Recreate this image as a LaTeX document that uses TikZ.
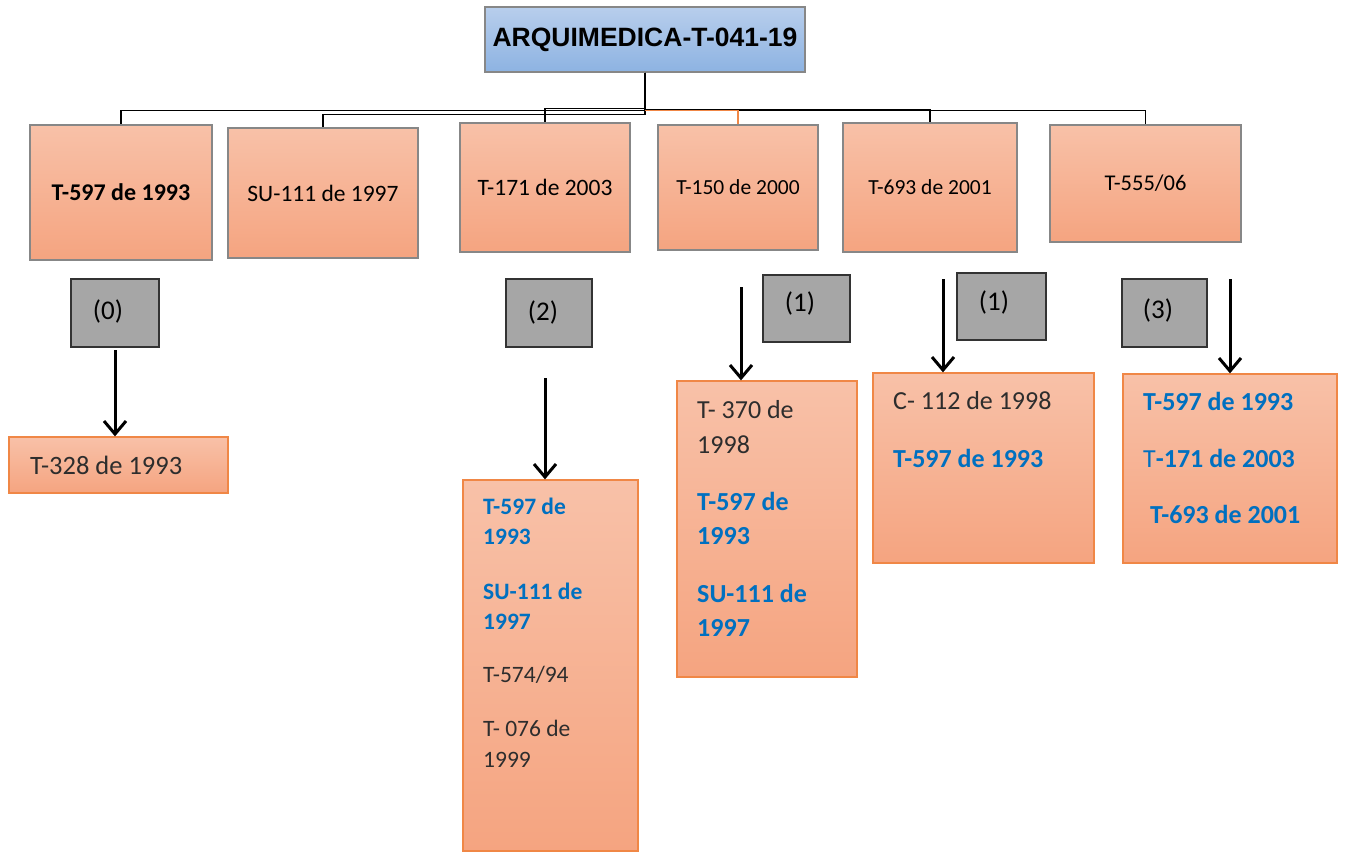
\documentclass[tikz,border=0pt]{standalone}
\usepackage{fontspec}
\setmainfont{Carlito}
\newfontfamily\hdrfont{Liberation Sans}
\usetikzlibrary{arrows.meta}
\definecolor{boxtop}{RGB}{248,193,168}
\definecolor{boxbot}{RGB}{245,164,128}
\definecolor{hdrtop}{RGB}{184,206,236}
\definecolor{hdrbot}{RGB}{141,179,226}
\definecolor{ornline}{RGB}{240,135,70}
\definecolor{grayfill}{RGB}{166,166,166}
\definecolor{bluetxt}{RGB}{0,112,192}
\definecolor{darktxt}{RGB}{45,45,45}
\definecolor{edgegray}{RGB}{135,135,135}
\begin{document}
\begin{tikzpicture}[x=1pt,y=-1pt,
  hdrbox/.style={draw=edgegray, line width=1.2pt, top color=hdrtop, bottom color=hdrbot, inner sep=0},
  topbox/.style={draw=edgegray, line width=1.2pt, top color=boxtop, bottom color=boxbot, inner sep=0, text=black},
  resbox/.style={draw=ornline, line width=1.3pt, top color=boxtop, bottom color=boxbot, inner sep=0},
  graybox/.style={draw=black!80, line width=1.3pt, fill=grayfill, inner sep=0},
  conn/.style={draw=black, line width=1.2pt},
  arr/.style={line width=3pt, -{Straight Barb[length=13pt,width=22pt,line width=3pt]}},
  txt/.style={inner sep=0, anchor=west, text=darktxt},
  bl/.style={inner sep=0, anchor=west, text=bluetxt, font=\bfseries\fontsize{#1}{#1}\selectfont},
  sz/.style={font=\fontsize{#1}{#1}\selectfont}
]
\useasboundingbox (0,0) rectangle (1345,852);

% header
\node[hdrbox, minimum width=320pt, minimum height=65pt] (hdr) at (645,39.5)
  {\hdrfont\bfseries\fontsize{26.5}{26.5}\selectfont ARQUIMEDICA-T-041-19};

% top-level boxes
\node[topbox, minimum width=182pt, minimum height=135pt] (c1) at (121,192.5) {\bfseries\fontsize{24}{24}\selectfont T-597 de 1993};
\node[topbox, minimum width=190pt, minimum height=130pt] (c2) at (323,193) {\fontsize{23.5}{24}\selectfont SU-111 de 1997};
\node[topbox, minimum width=170pt, minimum height=129pt] (c3) at (545,187.5) {\fontsize{23.5}{24}\selectfont T-171 de 2003};
\node[topbox, minimum width=160pt, minimum height=125pt] (c4) at (738,187.5) {\fontsize{21.5}{22}\selectfont T-150 de 2000};
\node[topbox, minimum width=174pt, minimum height=129pt] (c5) at (930,187.5) {\fontsize{21.5}{22}\selectfont T-693 de 2001};
\node[topbox, minimum width=191pt, minimum height=117pt] (c6) at (1145.5,183.5) {\fontsize{22.5}{23}\selectfont T-555/06};

% connectors
\draw[conn] (hdr.south) -- ++(0,38) -| (c1.north);
\draw[conn] (hdr.south) -- ++(0,42) -| (c2.north);
\draw[conn] (hdr.south) -- ++(0,36) -| (c3.north);
\draw[conn] (hdr.south) -- ++(0,37) -| (c5.north);
\draw[conn] (hdr.south) -- ++(0,38) -| (c6.north);
\draw[conn, draw=ornline] (hdr.south) ++(0,38) -| (c4.north);

% gray count boxes
\node[graybox, minimum width=88pt, minimum height=68pt] (g0) at (115,313) {};
\node[graybox, minimum width=86pt, minimum height=68pt] (g2) at (549,313) {};
\node[graybox, minimum width=87pt, minimum height=67pt] (g1a) at (806.5,308.5) {};
\node[graybox, minimum width=89pt, minimum height=67pt] (g1b) at (1001.5,306.5) {};
\node[graybox, minimum width=85pt, minimum height=68pt] (g3) at (1164.5,313) {};
\node[inner sep=0, sz=27] (l0) at (108,311) {(0)};
\node[inner sep=0, sz=27] (l2) at (543,312) {(2)};
\node[inner sep=0, sz=27] (l1a) at (800,303) {(1)};
\node[inner sep=0, sz=27] (l1b) at (994,302) {(1)};
\node[inner sep=0, sz=27] (l3) at (1158,310) {(3)};

% result boxes
\node[resbox, minimum width=219pt, minimum height=56pt] (r0) at (118.5,465) {};
\node[resbox, minimum width=175pt, minimum height=371pt] (r2) at (550.5,665.5) {};
\node[resbox, minimum width=180pt, minimum height=296pt] (r1a) at (767,529) {};
\node[resbox, minimum width=221pt, minimum height=190pt] (r1b) at (983.5,468) {};
\node[resbox, minimum width=214pt, minimum height=189pt] (r3) at (1230,468.5) {};

% arrows
\coordinate (a0) at (115,350);
\coordinate (a2) at (545,378);
\coordinate (a1a) at (741,287);
\coordinate (a1b) at (943,279);
\coordinate (a3) at (1230,279);
\draw[arr] (a0) -- (a0 |- r0.north);
\draw[arr] (a2) -- (a2 |- r2.north);
\draw[arr] (a1a) -- (a1a |- r1a.north);
\draw[arr] (a1b) -- (a1b |- r1b.north);
\draw[arr] (a3) -- (a3 |- r3.north);

% texts in results
\node[txt, sz=26.5] (t0) at (30,465) {T-328 de 1993};

\node[bl=23.5] (t2a) at (483,506) {T-597 de};
\node[bl=23.5] (t2b) at (483,537) {1993};
\node[bl=23.5] (t2c) at (483,591) {SU-111 de};
\node[bl=23.5] (t2d) at (483,622) {1997};
\node[txt, sz=23.5] (t2e) at (483,675) {T-574/94};
\node[txt, sz=23.5] (t2f) at (483,728) {T- 076 de};
\node[txt, sz=23.5] (t2g) at (483,760) {1999};

\node[txt, sz=26] (t1a) at (697,410) {T- 370 de};
\node[txt, sz=26] (t1b) at (697,445) {1998};
\node[bl=26] (t1c) at (697,501) {T-597 de};
\node[bl=26] (t1d) at (697,536) {1993};
\node[bl=26] (t1e) at (697,593) {SU-111 de};
\node[bl=26] (t1f) at (697,628) {1997};

\node[txt, sz=26] (t4a) at (893,401) {C- 112 de 1998};
\node[bl=26] (t4b) at (893,458) {T-597 de 1993};

\node[bl=26] (t5a) at (1143,401) {T-597 de 1993};
\node[bl=26] (t5b) at (1143,458) {\mdseries T\bfseries-171 de 2003};
\node[bl=26] (t5c) at (1150,514) {T-693 de 2001};
\end{tikzpicture}
\end{document}
